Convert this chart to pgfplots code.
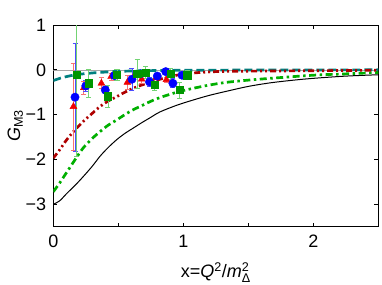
\documentclass[border=0pt]{standalone}
\usepackage{amsmath}
\usepackage{fontspec}
\setmainfont{Liberation Sans}
\usepackage{pgfplots}
\pgfplotsset{compat=1.18}
\definecolor{cgreen}{RGB}{0,175,0}
\definecolor{cdred}{RGB}{175,0,0}
\definecolor{cteal}{RGB}{0,128,128}
\definecolor{cred}{RGB}{240,0,0}
\definecolor{cblue}{RGB}{0,0,255}
\definecolor{csq}{RGB}{0,150,0}
\begin{document}
\fontsize{18bp}{21bp}\selectfont
\begin{tikzpicture}
\path[use as bounding box] (-53.3bp,-58.3bp) rectangle (328.7bp,226.7bp);
\begin{axis}[
  at={(0,0)}, anchor=south west,
  scale only axis, width=325bp, height=201.7bp,
  xmin=0, xmax=2.5, ymin=-3.5, ymax=1,
  axis line style={line width=0.9pt},
  xtick={0,0.5,1,1.5,2,2.5}, xticklabels={0,,1,,2,},
  ytick={-3,-2,-1,0,1}, yticklabels={−3,−2,−1,0,1},
  tick align=inside, major tick length=4bp,
  tick style={line width=0.8pt, black},
  xticklabel style={yshift=-2bp},
  yticklabel style={xshift=-1bp},
  xlabel={x=\textit{Q}$^{\text{2}}$/\textit{m}$^{\text{2}}_{\text{Δ}}$},
  ylabel={\textit{G}$_{\text{M3}}$},
  xlabel style={at={(axis description cs:0.5,-0.228)}, anchor=center},
  ylabel style={at={(axis description cs:-0.117,0.5)}, anchor=center, rotate=0},
  clip=true,
]
\addplot[gray!70, line width=0.5pt] coordinates {(0,0) (2.5,0)};
% black solid
\addplot[black, line width=1bp, smooth] coordinates {
(0,-3.0)(0.05,-2.92)(0.103,-2.76)(0.17,-2.57)(0.231,-2.38)(0.3,-2.15)(0.359,-1.93)
(0.42,-1.74)(0.487,-1.56)(0.55,-1.42)(0.615,-1.30)(0.68,-1.18)(0.744,-1.07)(0.82,-0.94)
(0.95,-0.79)(1.08,-0.67)(1.2,-0.57)(1.33,-0.48)(1.5,-0.37)(1.67,-0.29)(1.85,-0.23)
(2.0,-0.19)(2.25,-0.14)(2.5,-0.11)};
% green dash-dot
\addplot[cgreen, line width=2.7bp, smooth, dash pattern=on 7bp off 3.5bp on 2.5bp off 3.5bp] coordinates {
(0,-2.72)(0.05,-2.52)(0.1,-2.30)(0.18,-1.95)(0.231,-1.74)(0.3,-1.53)(0.359,-1.38)
(0.42,-1.24)(0.487,-1.12)(0.55,-1.0)(0.615,-0.89)(0.68,-0.80)(0.744,-0.71)(0.82,-0.62)
(0.95,-0.50)(1.08,-0.41)(1.2,-0.34)(1.33,-0.28)(1.5,-0.23)(1.67,-0.19)(2.0,-0.12)
(2.25,-0.09)(2.5,-0.06)};
% teal dashed
\addplot[cteal, line width=2.7bp, smooth, dash pattern=on 8bp off 4bp] coordinates {
(0,-0.24)(0.05,-0.19)(0.103,-0.15)(0.17,-0.11)(0.23,-0.09)(0.3,-0.07)(0.4,-0.05)
(0.5,-0.035)(0.7,-0.02)(1.0,-0.01)(1.5,-0.005)(2.5,0)};
% dark red dash-dot-dot
\addplot[cdred, line width=2.7bp, smooth, dash pattern=on 6bp off 3bp on 2bp off 3bp on 2bp off 3bp] coordinates {
(0,-1.97)(0.05,-1.78)(0.103,-1.56)(0.167,-1.34)(0.231,-1.15)(0.3,-0.97)(0.359,-0.82)
(0.42,-0.70)(0.487,-0.60)(0.55,-0.50)(0.615,-0.41)(0.68,-0.34)(0.744,-0.28)(0.82,-0.21)
(0.95,-0.12)(1.08,-0.07)(1.25,-0.04)(1.5,-0.03)(2.0,-0.02)(2.5,-0.01)};
% red triangles
\addplot[only marks, mark=triangle*, mark size=4bp, color=cred,
  error bars/.cd, y dir=both, y explicit,
  error bar style={color=cred!55, line width=0.8pt},
  error mark options={rotate=90, mark size=2.5bp, color=cred!55, line width=0.8pt}]
  coordinates {
(0.155,-0.82) +- (0,0.97)
(0.235,-0.40) +- (0,0.15)
(0.37,-0.30) +- (0,0.12)
(0.445,-0.15) +- (0,0.08)
(0.57,-0.28) +- (0,0.15)
(0.63,-0.10) +- (0,0.08)
(0.68,-0.21) +- (0,0.10)
(0.79,-0.18) +- (0,0.08)
(0.87,-0.22) +- (0,0.06)
};
% blue circles
\addplot[only marks, mark=*, mark size=4.2bp, color=cblue,
  error bars/.cd, y dir=both, y explicit,
  error bar style={color=cblue!70, line width=0.8pt},
  error mark options={rotate=90, mark size=2.5bp, color=cblue!70, line width=0.8pt}]
  coordinates {
(0.167,-0.61) +- (0,1.2)
(0.25,-0.36) +- (0,0.12)
(0.40,-0.45) +- (0,0.08)
(0.47,-0.13) +- (0,0.06)
(0.605,-0.21) +- (0,0.25)
(0.67,-0.09) +- (0,0.08)
(0.74,-0.27) +- (0,0.10)
(0.80,-0.14) +- (0,0.06)
(0.865,-0.04) +- (0,0.07)
(0.92,-0.30) +- (0,0.10)
(0.99,-0.12) +- (0,0.06)
};
% green squares
\addplot[only marks, mark=square*, mark size=3.6bp, color=csq,
  error bars/.cd, y dir=both, y explicit,
  error bar style={color=cgreen!55, line width=0.8pt},
  error mark options={rotate=90, mark size=2.5bp, color=cgreen!55, line width=0.8pt}]
  coordinates {
(0.18,-0.11) +- (0,1.82)
(0.27,-0.30) +- (0,0.32)
(0.42,-0.59) +- (0,0.24)
(0.49,-0.11) +- (0,0.13)
(0.645,-0.09) +- (0,0.32)
(0.71,-0.06) +- (0,0.13)
(0.78,-0.33) +- (0,0.14)
(0.90,-0.09) +- (0,0.13)
(0.97,-0.45) +- (0,0.18)
(1.03,-0.12) +- (0,0.10)
};
\end{axis}
\end{tikzpicture}
\end{document}
